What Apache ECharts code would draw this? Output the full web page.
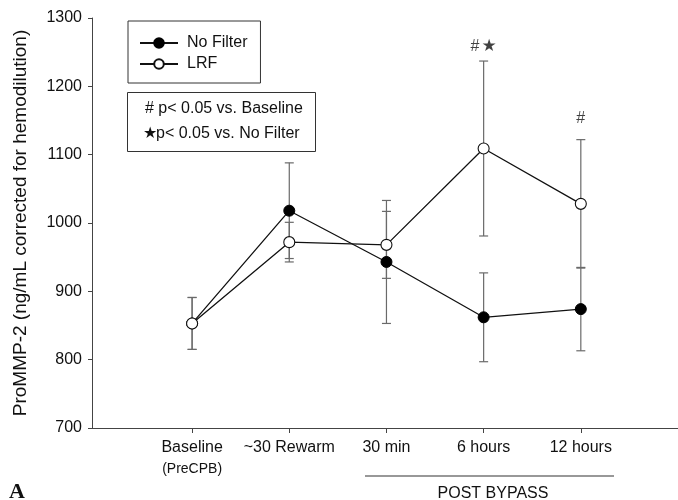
<!DOCTYPE html>
<html>
<head>
<meta charset="utf-8">
<script src="https://cdn.jsdelivr.net/npm/echarts@6/dist/echarts.min.js"></script>
<style>html,body{margin:0;padding:0;background:#fff;}#c{width:678px;height:500px;}</style>
</head>
<body>
<div id="c"></div>
<script>
const categories = ['Baseline', '~30 Rewarm', '30 min', '6 hours', '12 hours'];
const noFilterMean = [853, 1018, 943, 862, 874];
const noFilterErr = [38, 70, 90, 65, 61];
const lrfMean = [853, 972, 968, 1109, 1028];
const lrfErr = [38, 29, 49, 128, 94];
const yTicks = [700, 800, 900, 1000, 1100, 1200, 1300];
const sigMarks = [[3, 1258, '{h|#}{s|★}'], [4, 1153, '{h|#}']];

const FONT = 'Liberation Sans, Arial, sans-serif';
const chart = echarts.init(document.getElementById('c'));

function errData(mean, err) {
  return mean.map((m, i) => [i, m - err[i], m + err[i]]);
}
function errRender(params, api) {
  const x = api.value(0);
  const lo = api.coord([x, api.value(1)]);
  const hi = api.coord([x, api.value(2)]);
  const w = 4.5;
  const st = { stroke: '#6a6a6a', lineWidth: 1.2, fill: null };
  return {
    type: 'group',
    children: [
      { type: 'line', shape: { x1: lo[0], y1: lo[1], x2: hi[0], y2: hi[1] }, style: st },
      { type: 'line', shape: { x1: lo[0] - w, y1: lo[1], x2: lo[0] + w, y2: lo[1] }, style: st },
      { type: 'line', shape: { x1: hi[0] - w, y1: hi[1], x2: hi[0] + w, y2: hi[1] }, style: st }
    ]
  };
}

const option = {
  animation: false,
  backgroundColor: '#fff',
  grid: { left: 92, right: -2, top: 18, bottom: 72, containLabel: false },
  legend: {
    data: ['No Filter', 'LRF'],
    orient: 'vertical',
    left: 128, top: 21,
    itemWidth: 38, itemHeight: 12, itemGap: 5,
    padding: [14, 13, 11, 11],
    borderColor: '#333', borderWidth: 1,
    textStyle: { fontFamily: FONT, fontSize: 16, color: '#111', padding: [0, 0, 0, 4] }
  },
  xAxis: {
    type: 'value', min: -1.03, max: 5,
    splitLine: { show: false },
    axisLine: { show: true, onZero: false, lineStyle: { color: '#444', width: 1 } },
    axisTick: { show: true, length: 5, customValues: [0, 1, 2, 3, 4], lineStyle: { color: '#444' } },
    axisLabel: {
      customValues: [0, 1, 2, 3, 4],
      margin: 10,
      fontFamily: FONT, fontSize: 16, color: '#111',
      formatter: function (v) {
        const i = Math.round(v);
        if (i === 0) return '{a|Baseline}\n{b|(PreCPB)}';
        return '{a|' + categories[i] + '}';
      },
      rich: {
        a: { fontFamily: FONT, fontSize: 16, color: '#111', lineHeight: 20 },
        b: { fontFamily: FONT, fontSize: 14, color: '#111', lineHeight: 22 }
      }
    }
  },
  yAxis: {
    type: 'value', min: 700, max: 1300, interval: 100,
    name: 'ProMMP-2 (ng/mL corrected for hemodilution)',
    nameLocation: 'middle', nameGap: 62, nameRotate: 90,
    nameTextStyle: { fontFamily: FONT, fontSize: 19, color: '#111' },
    splitLine: { show: false },
    axisLine: { show: true, onZero: false, lineStyle: { color: '#444', width: 1 } },
    axisTick: { show: true, length: 4, lineStyle: { color: '#444' } },
    axisLabel: {
      margin: 10, fontFamily: FONT, fontSize: 16, color: '#111',
      formatter: function (v) { return yTicks.indexOf(v) >= 0 ? String(v) : ''; }
    }
  },
  graphic: [
    {
      type: 'rect', left: 127, top: 92,
      shape: { width: 188, height: 59 },
      style: { fill: '#fff', stroke: '#333', lineWidth: 1 }, z: 10
    },
    {
      type: 'text', left: 145, top: 101, z: 11,
      style: { text: '# p< 0.05 vs. Baseline', font: '16px ' + FONT, fill: '#111' }
    },
    {
      type: 'text', left: 143, top: 126, z: 11,
      style: { text: '★', font: 'bold 16px DejaVu Sans', fill: '#111' }
    },
    {
      type: 'text', left: 156, top: 126, z: 11,
      style: { text: 'p< 0.05 vs. No Filter', font: '16px ' + FONT, fill: '#111' }
    },
    {
      type: 'line', shape: { x1: 365, y1: 476, x2: 614, y2: 476 },
      style: { stroke: '#333', lineWidth: 1.2 }
    },
    {
      type: 'text', x: 493, y: 486,
      style: { text: 'POST BYPASS', font: '16px ' + FONT, fill: '#111', align: 'center', verticalAlign: 'top' }
    },
    {
      type: 'text', left: 9, top: 481,
      style: { text: 'A', font: 'bold 22px Liberation Serif, Times New Roman, serif', fill: '#111' }
    }
  ],
  series: [
    {
      type: 'custom', name: 'errNF', renderItem: errRender,
      data: errData(noFilterMean, noFilterErr), z: 1, silent: true
    },
    {
      type: 'custom', name: 'errLRF', renderItem: errRender,
      data: errData(lrfMean, lrfErr), z: 1, silent: true
    },
    {
      type: 'line', name: 'No Filter',
      data: noFilterMean.map((v, i) => [i, v]),
      symbol: 'circle', symbolSize: 11,
      itemStyle: { color: '#000', borderColor: '#000', borderWidth: 1 },
      lineStyle: { color: '#111', width: 1.3 }, z: 3
    },
    {
      type: 'line', name: 'LRF',
      data: lrfMean.map((v, i) => [i, v]),
      symbol: 'circle', symbolSize: 11,
      itemStyle: { color: '#fff', borderColor: '#111', borderWidth: 1.1 },
      lineStyle: { color: '#111', width: 1.3 }, z: 4
    },
    {
      type: 'scatter', name: 'sig',
      data: sigMarks.map(d => ({ value: [d[0], d[1]], label: { formatter: d[2] } })),
      symbolSize: 0, z: 5, silent: true,
      label: {
        show: true, position: 'inside',
        rich: {
          h: { fontFamily: FONT, fontSize: 16, color: '#111' },
          s: { fontFamily: 'DejaVu Sans', fontSize: 17, fontWeight: 'bold', color: '#111', padding: [0, 0, 0, 2] }
        }
      }
    }
  ]
};
chart.setOption(option);
</script>
</body>
</html>
